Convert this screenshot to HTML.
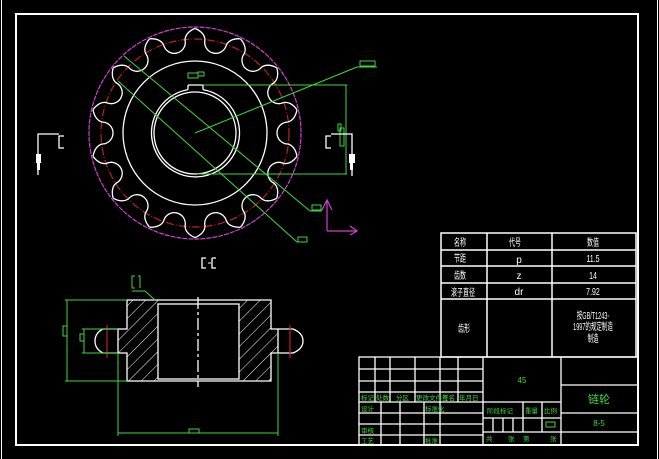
<!DOCTYPE html>
<html><head><meta charset="utf-8"><style>
html,body{margin:0;padding:0;background:#000;width:659px;height:459px;overflow:hidden}
svg{display:block}
text{font-family:"Liberation Sans","Noto Sans CJK SC",sans-serif}
</style></head><body>
<svg width="659" height="459" viewBox="0 0 659 459" xmlns="http://www.w3.org/2000/svg">
<defs>
<path id="gap" d="M -23.2 -102 Q -13 -100 -11 -93 A 11 11 0 0 0 11 -93 Q 13 -100 23.2 -102" fill="none" stroke="#fff" stroke-width="1.3"/>
<pattern id="hatch" patternUnits="userSpaceOnUse" width="9" height="9" patternTransform="rotate(45)">
<line x1="0" y1="0" x2="0" y2="9" stroke="#fff" stroke-width="1"/>
</pattern>
</defs>
<line x1="1.5" y1="0" x2="1.5" y2="459" stroke="#fff" stroke-width="1"/>
<line x1="657.5" y1="0" x2="657.5" y2="459" stroke="#fff" stroke-width="1"/>
<rect x="16" y="14" width="622" height="431" fill="none" stroke="#fff" stroke-width="2"/>

<circle cx="195" cy="133" r="106" fill="none" stroke="#d040d0" stroke-width="1.2" stroke-dasharray="5 1"/>
<circle cx="195" cy="133" r="94" fill="none" stroke="#c02020" stroke-width="1.2" stroke-dasharray="8 2 1 2"/>
<g transform="translate(195 133)">
<use href="#gap" transform="rotate(12.86)"/><use href="#gap" transform="rotate(38.57)"/>
<use href="#gap" transform="rotate(64.29)"/><use href="#gap" transform="rotate(90)"/>
<use href="#gap" transform="rotate(115.71)"/><use href="#gap" transform="rotate(141.43)"/>
<use href="#gap" transform="rotate(167.14)"/><use href="#gap" transform="rotate(192.86)"/>
<use href="#gap" transform="rotate(218.57)"/><use href="#gap" transform="rotate(244.29)"/>
<use href="#gap" transform="rotate(270)"/><use href="#gap" transform="rotate(295.71)"/>
<use href="#gap" transform="rotate(321.43)"/><use href="#gap" transform="rotate(347.14)"/>
</g>
<circle cx="195" cy="133" r="72" fill="none" stroke="#fff" stroke-width="1.3"/>
<path d="M 188 89.6 A 44 44 0 1 0 203 89.6" fill="none" stroke="#fff" stroke-width="1.3"/>
<path d="M 188 85 L 188 89.6 M 203 85 L 203 89.6 M 188 85 L 203 85" stroke="#fff" stroke-width="1.3" fill="none"/>
<circle cx="195" cy="133" r="41" fill="none" stroke="#fff" stroke-width="1.3"/>

<g stroke="#3ed83e" stroke-width="1" fill="none">
<line x1="195" y1="133" x2="357" y2="67"/>
<line x1="357" y1="67" x2="377" y2="67"/>
<rect x="360" y="61" width="15" height="5"/>
<line x1="124" y1="56" x2="310" y2="211"/>
<line x1="310" y1="211" x2="322" y2="211"/>
<rect x="312" y="205" width="9" height="5"/>
<line x1="118" y1="81" x2="297" y2="242"/>
<line x1="297" y1="242" x2="307" y2="242"/>
<rect x="298" y="237" width="9" height="5"/>
<line x1="203" y1="85" x2="347" y2="85"/>
<line x1="197" y1="174" x2="347" y2="174"/>
<line x1="346" y1="85" x2="346" y2="174"/>
<rect x="188" y="73" width="10" height="5"/><rect x="198" y="72" width="6" height="4"/>
<rect x="338" y="124" width="3" height="7"/><rect x="340" y="128" width="4" height="18"/>
</g>
<g stroke="#d040d0" stroke-width="1.2" fill="none">
<line x1="327" y1="200" x2="327" y2="231"/><line x1="327" y1="231" x2="357" y2="231"/>
<path d="M322 210 L327 200 L332 210"/><path d="M350 226 L357 231 L350 235"/>
</g>
<g stroke="#fff" stroke-width="1.3" fill="none">
<path d="M38 175 L38 134 L59 134"/><path d="M64 136 L59 136 L59 148 L64 148"/>
<path d="M352 176 L352 134 L331 134"/><path d="M331 136 L326 136 L326 148 L331 148"/>
<path d="M206 258 L202 258 L202 268 L206 268 M212 258 L216 258 M212 258 L212 268 L216 268" />
</g>
<rect x="36" y="154" width="5" height="9" fill="#fff"/><rect x="37" y="163" width="3" height="7" fill="#fff"/>
<rect x="349" y="154" width="6" height="9" fill="#fff"/><rect x="350" y="163" width="3" height="7" fill="#fff"/>
<line x1="208" y1="263" x2="211" y2="263" stroke="#fff"/>

<path d="M127 300 L158 300 L158 381 L127 381 L127 353 L118 353 L118 329 L127 329 Z" fill="url(#hatch)"/>
<path d="M239 300 L271 300 L271 329 L278 329 L278 353 L271 353 L271 381 L239 381 Z" fill="url(#hatch)"/>
<g stroke="#fff" stroke-width="1.3" fill="none">
<path d="M127 300 L271 300 L271 329 L278 329 L278 353 L271 353 L271 381 L127 381 L127 353 L118 353 L118 329 L127 329 Z"/>
<rect x="158" y="304" width="81" height="75"/>
<path d="M118 329 L103 329 Q95 333 95 341 Q95 349 103 353 L118 353"/>
<path d="M278 329 L293 329 Q303 333 303 341 Q303 349 293 353 L278 353"/>
<line x1="198" y1="297" x2="198" y2="387" stroke-dasharray="12 3 3 3"/>
</g>
<line x1="107" y1="325" x2="107" y2="358" stroke="#c02020" stroke-width="1.2"/>
<line x1="290" y1="325" x2="290" y2="358" stroke="#c02020" stroke-width="1.2"/>
<g stroke="#3ed83e" stroke-width="1" fill="none">
<line x1="65" y1="300" x2="127" y2="300"/><line x1="65" y1="381" x2="127" y2="381"/>
<line x1="67" y1="300" x2="67" y2="381"/><rect x="63" y="326" width="4" height="10"/>
<line x1="82" y1="329" x2="118" y2="329"/><line x1="82" y1="353" x2="118" y2="353"/>
<line x1="84" y1="329" x2="84" y2="353"/><rect x="80" y="334" width="4" height="7"/>
<line x1="118" y1="353" x2="118" y2="436"/><line x1="278" y1="353" x2="278" y2="436"/>
<line x1="118" y1="433" x2="278" y2="433"/><rect x="189" y="429" width="10" height="4"/>
<path d="M135 276 L132 276 L132 288 L135 288 M138 276 L140 276 L140 288"/>
<path d="M132 291 L145 291 L155 300"/>
</g>

<g stroke="#fff" stroke-width="1.5" fill="none">
<rect x="441" y="233" width="195" height="124"/>
<line x1="487" y1="233" x2="487" y2="357"/><line x1="552" y1="233" x2="552" y2="357"/>
<line x1="441" y1="250" x2="636" y2="250"/><line x1="441" y1="266" x2="636" y2="266"/>
<line x1="441" y1="283" x2="636" y2="283"/><line x1="441" y1="299" x2="636" y2="299"/>
</g>
<g fill="#fff" font-size="10" text-anchor="middle">
<text x="460" y="246" transform="translate(460 0) scale(0.6 1) translate(-460 0)">名称</text>
<text x="515" y="246" transform="translate(515 0) scale(0.6 1) translate(-515 0)">代号</text>
<text x="593" y="246" transform="translate(593 0) scale(0.6 1) translate(-593 0)">数值</text>
<text x="460" y="262" transform="translate(460 0) scale(0.6 1) translate(-460 0)">节距</text>
<text x="519" y="263">p</text>
<text x="593" y="262" transform="translate(593 0) scale(0.7 1) translate(-593 0)">11.5</text>
<text x="460" y="279" transform="translate(460 0) scale(0.6 1) translate(-460 0)">齿数</text>
<text x="519" y="279">z</text>
<text x="593" y="279" transform="translate(593 0) scale(0.7 1) translate(-593 0)">14</text>
<text x="463" y="296" transform="translate(463 0) scale(0.6 1) translate(-463 0)">滚子直径</text>
<text x="519" y="295">dr</text>
<text x="593" y="295" transform="translate(593 0) scale(0.7 1) translate(-593 0)">7.92</text>
<text x="464" y="332" transform="translate(464 0) scale(0.6 1) translate(-464 0)">齿形</text>
<text x="593" y="319" transform="translate(593 0) scale(0.55 1) translate(-593 0)">按GB/T1243-</text>
<text x="593" y="330" transform="translate(593 0) scale(0.55 1) translate(-593 0)">1997的规定制造</text>
<text x="593" y="342" transform="translate(593 0) scale(0.55 1) translate(-593 0)">制造</text>
</g>

<g stroke="#fff" stroke-width="1.3" fill="none">
<rect x="359" y="357" width="279" height="88"/>
<line x1="483" y1="357" x2="483" y2="445"/><line x1="561" y1="357" x2="561" y2="445"/>
<line x1="359" y1="369" x2="483" y2="369"/><line x1="359" y1="381" x2="483" y2="381"/>
<line x1="359" y1="392" x2="483" y2="392"/><line x1="359" y1="402" x2="561" y2="402"/>
<line x1="359" y1="413" x2="483" y2="413"/><line x1="359" y1="424" x2="483" y2="424"/>
<line x1="359" y1="435" x2="483" y2="435"/>
<line x1="375" y1="357" x2="375" y2="402"/><line x1="390" y1="357" x2="390" y2="402"/>
<line x1="415" y1="357" x2="415" y2="402"/><line x1="440" y1="357" x2="440" y2="445"/>
<line x1="458" y1="357" x2="458" y2="402"/>
<line x1="381" y1="402" x2="381" y2="445"/><line x1="400" y1="402" x2="400" y2="445"/>
<line x1="424" y1="402" x2="424" y2="445"/>
<line x1="483" y1="432" x2="561" y2="432"/><line x1="483" y1="418" x2="561" y2="418"/>
<line x1="523" y1="402" x2="523" y2="432"/><line x1="542" y1="402" x2="542" y2="432"/>
<line x1="493" y1="418" x2="493" y2="432"/><line x1="503" y1="418" x2="503" y2="432"/>
<line x1="513" y1="418" x2="513" y2="432"/>
<line x1="561" y1="385" x2="638" y2="385"/><line x1="561" y1="413" x2="638" y2="413"/>
<line x1="561" y1="432" x2="638" y2="432"/>
</g>
<g fill="#3ed83e" font-size="6.5">
<text x="361" y="400">标记</text><text x="376" y="400">处数</text><text x="396" y="400">分区</text>
<text x="416" y="400">更改文件号</text><text x="442" y="400">签名</text><text x="459" y="400">年月日</text>
<text x="361" y="411">设计</text><text x="425" y="411">标准化</text>
<text x="361" y="433">审核</text><text x="361" y="443">工艺</text><text x="425" y="443">批准</text>
<text x="487" y="413">阶段标记</text><text x="525" y="413">重量</text><text x="544" y="413">比例</text>
<text x="486" y="441">共</text><text x="508" y="441">张</text><text x="523" y="441">第</text><text x="550" y="441">张</text>
</g>
<rect x="546" y="422" width="9" height="5" fill="none" stroke="#3ed83e"/>
<text x="522" y="383" fill="#3ed83e" font-size="8" text-anchor="middle">45</text>
<text x="599" y="403" fill="#3ed83e" font-size="11" text-anchor="middle">链轮</text>
<text x="599" y="426" fill="#3ed83e" font-size="8" text-anchor="middle">8-5</text>
</svg>
</body></html>
